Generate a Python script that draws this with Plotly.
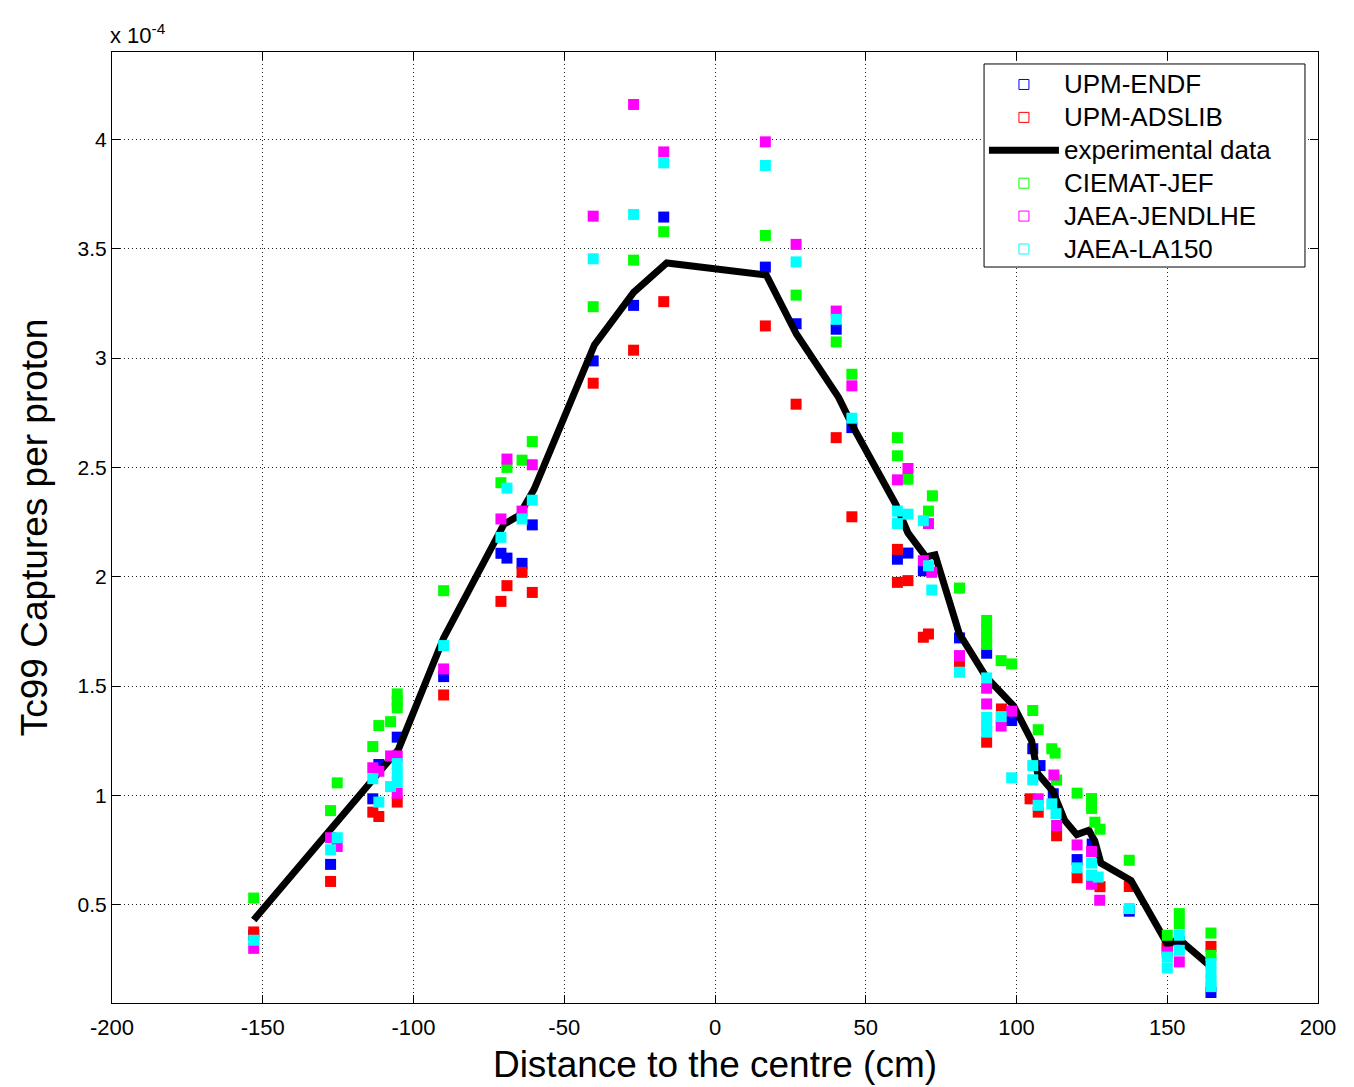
import plotly.graph_objects as go

# Tc99 captures per proton (units of 1e-4) versus distance to the centre (cm)

# Experimental data
exp_x = [-153, -127, -113, -105, -90, -70, -65, -60, -40, -27, -16, 17, 27, 41, 46,
         60, 64, 70, 73, 81, 90, 99, 105, 107, 112, 116, 120, 124, 126, 128, 138,
         150, 154, 165]
exp_y = [0.43, 0.85, 1.07, 1.21, 1.72, 2.24, 2.28, 2.40, 3.06, 3.30, 3.435, 3.38,
         3.11, 2.82, 2.68, 2.33, 2.20, 2.09, 2.10, 1.74, 1.54, 1.41, 1.25, 1.10,
         1.02, 0.885, 0.82, 0.84, 0.79, 0.69, 0.61, 0.32, 0.34, 0.21]

# UPM-ENDF
endf_x = [-153, -127.5, -113.5, -111.5, -105.4, -90, -71, -69, -64, -60.6, -40.4,
          -27, -17, 16.7, 26.9, 40.2, 45.4, 60.5, 64, 69.1, 81.1, 90.1, 98.4,
          105.4, 107.8, 112.2, 120.1, 125.1, 137.4, 150, 154, 164.5]
endf_y = [0.36, 0.684, 0.984, 1.141, 1.266, 1.543, 2.107, 2.085, 2.061, 2.237,
          2.987, 3.241, 3.645, 3.416, 3.157, 3.132, 2.682, 2.08, 2.108, 2.027,
          1.72, 1.65, 1.342, 1.213, 1.136, 1.007, 0.706, 0.777, 0.47, 0.30, 0.33,
          0.098]

# UPM-ADSLIB
ads_x = [-153, -127.5, -113.5, -111.5, -105.4, -90, -71, -69, -64, -60.6, -40.4,
         -27, -17, 16.7, 26.9, 40.2, 45.4, 60.5, 60.5, 64, 69.1, 70.8, 81.1, 90.1,
         95, 104.5, 107.2, 113.3, 120.1, 127.7, 137.4, 150, 164.5]
ads_y = [0.375, 0.606, 0.923, 0.903, 0.969, 1.459, 1.887, 1.959, 2.02, 1.928,
         2.885, 3.036, 3.258, 3.147, 2.789, 2.636, 2.274, 2.125, 1.974, 1.982,
         1.723, 1.738, 1.601, 1.243, 1.395, 0.984, 0.923, 0.815, 0.623, 0.582,
         0.583, 0.315, 0.309]

# CIEMAT-JEF
jef_x = [-153, -127.5, -125.3, -113.5, -111.5, -107.6, -105.4, -105.4, -105.4, -90,
         -71, -69, -64, -60.6, -40.4, -27, -17, 16.7, 26.9, 40.2, 45.4, 60.5, 60.5,
         64, 70.8, 72.1, 81.1, 90.1, 90.1, 90.1, 90.1, 94.9, 98.4, 105.4, 107.2,
         111.7, 112.8, 113.3, 120.1, 124.9, 124.9, 126, 127.7, 137.4, 150, 154, 154,
         164.5, 164.5]
jef_y = [0.53, 0.93, 1.057, 1.223, 1.319, 1.337, 1.464, 1.43, 1.40, 1.936, 2.43,
         2.50, 2.533, 2.618, 3.235, 3.448, 3.578, 3.561, 3.288, 3.074, 2.926, 2.636,
         2.553, 2.446, 2.30, 2.37, 1.948, 1.80, 1.76, 1.72, 1.69, 1.616, 1.601,
         1.388, 1.30, 1.213, 1.193, 1.07, 1.01, 0.985, 0.94, 0.877, 0.845, 0.703,
         0.36, 0.459, 0.413, 0.37, 0.268]

# JAEA-JENDLHE
jendl_x = [-153, -127.5, -125.3, -113.5, -111.5, -107.6, -105.4, -105.4, -90, -71,
           -69, -64, -60.6, -40.4, -27, -17, 16.7, 26.9, 40.2, 45.4, 60.5, 64, 69.1,
           70.8, 71.9, 81.1, 90.1, 90.1, 94.9, 98.4, 107.2, 112.4, 113.3, 120.1,
           124.9, 124.9, 127.6, 150, 154]
jendl_y = [0.30, 0.806, 0.766, 1.126, 1.11, 1.18, 1.18, 1.01, 1.578, 2.264, 2.538,
           2.30, 2.512, 3.649, 4.16, 3.943, 3.989, 3.52, 3.215, 2.873, 2.443, 2.495,
           2.073, 2.243, 2.02, 1.639, 1.49, 1.418, 1.317, 1.385, 0.984, 1.093, 0.862,
           0.773, 0.743, 0.593, 0.52, 0.283, 0.238]

# JAEA-LA150
la150_x = [-153, -127.5, -125.3, -113.5, -111.5, -107.6, -105.4, -105.4, -105.4,
           -90, -71, -69, -64, -60.6, -40.4, -27, -17, 16.7, 26.9, 40.2, 45.4, 60.5,
           60.5, 64, 69.1, 70.8, 71.9, 81.1, 90.1, 90.1, 90.1, 90.1, 94.9, 98.4,
           105.4, 105.4, 107.2, 111.7, 113.1, 120.1, 124.9, 124.9, 127.1, 137.4,
           150, 150, 154, 154, 164.5, 164.5, 164.5, 164.5]
la150_y = [0.337, 0.751, 0.806, 1.076, 0.969, 1.04, 1.145, 1.10, 1.06, 1.685, 2.18,
           2.405, 2.264, 2.35, 3.454, 3.657, 3.893, 3.881, 3.44, 3.177, 2.725, 2.30,
           2.243, 2.286, 2.256, 2.05, 1.939, 1.563, 1.537, 1.357, 1.32, 1.289, 1.36,
           1.08, 1.136, 1.071, 0.954, 0.961, 0.916, 0.668, 0.69, 0.634, 0.626,
           0.482, 0.26, 0.21, 0.36, 0.291, 0.23, 0.19, 0.15, 0.125]

x_ticks = [-200, -150, -100, -50, 0, 50, 100, 150, 200]
x_tick_text = ["-200", "-150", "-100", "-50", "0", "50", "100", "150", "200"]
y_ticks = [0.5, 1, 1.5, 2, 2.5, 3, 3.5, 4]
y_tick_text = ["0.5", "1", "1.5", "2", "2.5", "3", "3.5", "4"]

FONT = "Arial, Liberation Sans, sans-serif"
MSIZE = 11


def key_label(text):
    # legend labels are set a little larger than the row pitch font
    return '<span style="font-size:26px">' + text + "</span>"


fig = go.Figure()


def add_series(name, xs, ys, color, rank):
    # filled squares in the plot
    fig.add_trace(go.Scatter(
        x=xs, y=ys, mode="markers", name=name, showlegend=False,
        marker=dict(symbol="square", size=MSIZE, color=color, line=dict(width=0)),
    ))
    # open-square key in the legend
    fig.add_trace(go.Scatter(
        x=[None], y=[None], mode="markers", name=key_label(name), legendrank=rank,
        marker=dict(symbol="square-open", size=10, color=color, line=dict(width=1)),
    ))


add_series("UPM-ENDF", endf_x, endf_y, "#0000FF", 1)
add_series("UPM-ADSLIB", ads_x, ads_y, "#FF0000", 2)
fig.add_trace(go.Scatter(
    x=exp_x, y=exp_y, mode="lines", name=key_label("experimental data"),
    legendrank=3, line=dict(color="black", width=7),
))
add_series("CIEMAT-JEF", jef_x, jef_y, "#00FF00", 4)
add_series("JAEA-JENDLHE", jendl_x, jendl_y, "#FF00FF", 5)
add_series("JAEA-LA150", la150_x, la150_y, "#00FFFF", 6)

axis_common = dict(
    showline=True, linecolor="black", linewidth=1, mirror="ticks",
    ticks="inside", ticklen=8, tickcolor="black",
    showgrid=True, gridcolor="#222222", gridwidth=1, griddash="1px,3px",
    zeroline=False, automargin=False,
)

fig.update_xaxes(
    range=[-200, 200], tickvals=x_ticks, ticktext=x_tick_text,
    ticklabelstandoff=5, tickfont=dict(family=FONT, size=22, color="black"),
    title=dict(text="Distance to the centre (cm)",
               font=dict(family=FONT, size=37, color="black"), standoff=11),
    **axis_common,
)
fig.update_yaxes(
    range=[0.05, 4.4], tickvals=y_ticks, ticktext=y_tick_text,
    tickfont=dict(family=FONT, size=21, color="black"),
    title=dict(text="Tc99 Captures per proton",
               font=dict(family=FONT, size=37, color="black"), standoff=18),
    **axis_common,
)

fig.add_annotation(
    text="x 10<sup>-4</sup>", xref="paper", yref="paper", x=0, y=1,
    xanchor="left", yanchor="bottom", yshift=2, xshift=-4, showarrow=False,
    font=dict(family=FONT, size=22, color="black"),
)

# legend frame
fig.add_shape(
    type="rect", xref="paper", yref="paper",
    x0=0.7231, x1=0.9892, y0=0.7739, y1=0.9874,
    line=dict(color="black", width=1), fillcolor="white", layer="above",
)

fig.update_layout(
    width=1354, height=1087,
    margin=dict(l=112, r=36, t=52, b=84),
    paper_bgcolor="white", plot_bgcolor="white",
    font=dict(family=FONT, color="black"),
    legend=dict(
        x=0.723, y=0.9884, xanchor="left", yanchor="top",
        bgcolor="rgba(0,0,0,0)", borderwidth=0,
        font=dict(family=FONT, size=23, color="black"),
        itemwidth=70, tracegroupgap=0,
    ),
)

fig.write_html("out.html")
